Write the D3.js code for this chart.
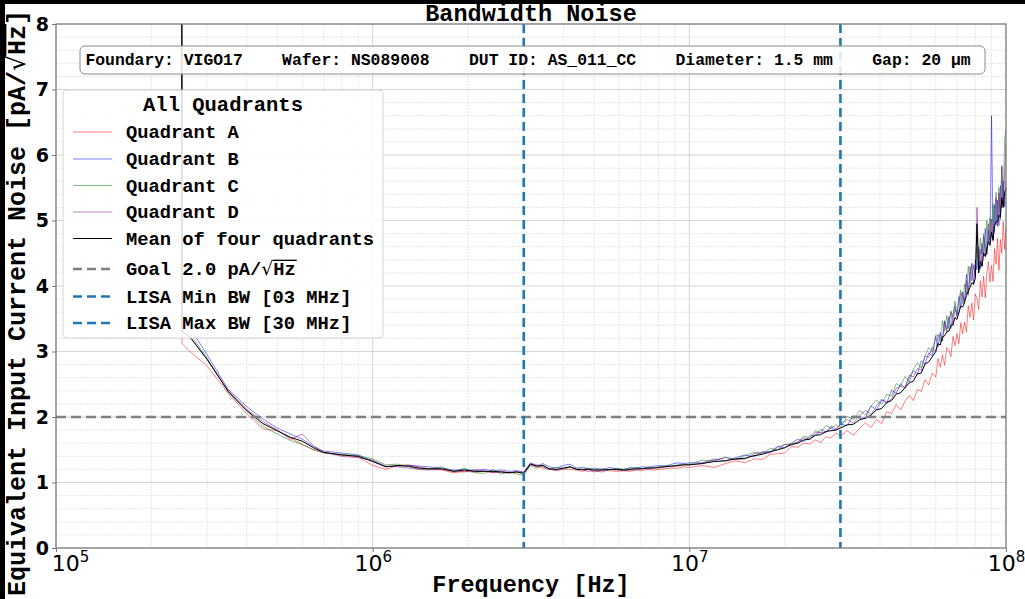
<!DOCTYPE html>
<html>
<head>
<meta charset="utf-8">
<script src="https://cdn.jsdelivr.net/npm/d3@7"></script>
<style>
body{margin:0;background:#000;}
svg{display:block;}
</style>
</head>
<body>
<div id="container"></div>
<script>
// frequency points in MHz
let freqMHz = [0.248, 0.25, 0.265, 0.3, 0.35, 0.4, 0.45, 0.5, 0.55, 0.6,
  0.65, 0.7, 0.8, 0.9, 1.0, 1.1, 1.2, 1.3, 1.4, 1.5,
  1.65, 1.8, 1.95, 2.1, 2.25, 2.4, 2.55, 2.7, 2.85, 3.0,
  3.15, 3.3, 3.45, 3.6, 3.8, 4.0, 4.2, 4.4, 4.6, 4.8,
  5.0, 5.3, 5.6, 5.9, 6.2, 6.5, 6.8, 7.1, 7.4, 7.7,
  8.0, 8.4, 8.8, 9.2, 9.6, 10, 11, 12, 13, 14,
  15, 16, 17, 18, 19, 20, 21, 22, 23, 24,
  25, 26, 27, 28, 29, 30, 31.5, 33, 34.5, 36,
  37.5, 39, 40.5, 42, 43.5, 45, 46.5, 48, 49.5, 51,
  52.5, 54, 55.5, 57, 58.5, 60, 61, 62, 63, 64,
  65, 66, 67, 68, 69, 70, 71, 72, 73, 74,
  75, 76, 77, 78, 79, 80, 81, 82, 83, 84,
  85, 86, 87, 88, 89, 90, 91, 92, 93, 94,
  95, 96, 97, 98, 99, 100];

// noise in pA/sqrt(Hz)
let quadA = [28, 3.12, 3.0, 2.78, 2.36, 2.05, 1.82, 1.79, 1.68, 1.58,
  1.5, 1.46, 1.42, 1.39, 1.26, 1.2, 1.26, 1.27, 1.24, 1.21,
  1.19, 1.15, 1.17, 1.16, 1.17, 1.15, 1.17, 1.15, 1.16, 1.14,
  1.27, 1.24, 1.22, 1.2, 1.19, 1.21, 1.2, 1.19, 1.17, 1.2,
  1.16, 1.19, 1.18, 1.17, 1.18, 1.17, 1.19, 1.18, 1.2, 1.19,
  1.2, 1.21, 1.22, 1.22, 1.24, 1.23, 1.26, 1.23, 1.29, 1.33,
  1.30, 1.36, 1.35, 1.43, 1.44, 1.45, 1.55, 1.54, 1.60, 1.59,
  1.65, 1.61, 1.70, 1.68, 1.76, 1.71, 1.79, 1.72, 1.83, 1.91,
  1.84, 1.96, 1.90, 2.08, 2.05, 2.19, 2.11, 2.24, 2.33, 2.25,
  2.42, 2.39, 2.57, 2.49, 2.67, 2.61, 2.89, 2.76, 2.95, 2.79,
  3.06, 3.02, 2.92, 3.23, 3.09, 3.27, 3.12, 3.44, 3.27, 3.45,
  3.30, 3.70, 3.52, 3.74, 3.48, 3.88, 3.80, 3.64, 4.08, 3.83,
  4.15, 3.82, 4.20, 4.37, 4.06, 4.31, 4.07, 4.57, 4.33, 4.73,
  4.24, 4.71, 4.50, 4.98, 4.56, 4.92];

let quadB = [31, 3.42, 3.36, 2.95, 2.42, 2.16, 1.97, 1.83, 1.74, 1.66,
  1.55, 1.48, 1.45, 1.42, 1.33, 1.24, 1.25, 1.26, 1.25, 1.24,
  1.22, 1.19, 1.2, 1.18, 1.2, 1.18, 1.19, 1.17, 1.18, 1.16,
  1.3, 1.25, 1.29, 1.24, 1.22, 1.26, 1.28, 1.22, 1.23, 1.21,
  1.22, 1.2, 1.23, 1.21, 1.2, 1.23, 1.22, 1.24, 1.23, 1.25,
  1.26, 1.25, 1.28, 1.3, 1.29, 1.3, 1.30, 1.36, 1.33, 1.38,
  1.42, 1.39, 1.47, 1.47, 1.55, 1.53, 1.60, 1.66, 1.63, 1.71,
  1.72, 1.81, 1.77, 1.83, 1.80, 1.89, 1.87, 2.02, 1.98, 1.99,
  2.17, 2.11, 2.26, 2.21, 2.41, 2.36, 2.51, 2.44, 2.60, 2.71,
  2.65, 2.86, 2.81, 2.98, 2.93, 3.23, 3.07, 3.29, 3.16, 3.47,
  3.34, 3.53, 3.35, 3.56, 3.70, 3.53, 3.84, 3.67, 3.91, 3.73,
  4.18, 3.89, 4.15, 4.34, 4.02, 4.40, 4.25, 4.60, 4.26, 4.65,
  4.47, 4.88, 4.49, 4.85, 4.66, 6.6, 4.73, 5.24, 4.93, 5.31,
  4.92, 5.53, 5.19, 5.60, 5.21, 5.62];

let quadC = [30, 3.36, 3.27, 2.9, 2.38, 2.09, 1.86, 1.74, 1.64, 1.58,
  1.5, 1.45, 1.43, 1.41, 1.36, 1.27, 1.28, 1.24, 1.21, 1.2,
  1.24, 1.16, 1.22, 1.15, 1.14, 1.2, 1.13, 1.16, 1.13, 1.11,
  1.26, 1.22, 1.27, 1.2, 1.23, 1.22, 1.23, 1.21, 1.2, 1.22,
  1.19, 1.21, 1.19, 1.22, 1.2, 1.21, 1.23, 1.21, 1.24, 1.22,
  1.24, 1.26, 1.25, 1.27, 1.28, 1.28, 1.34, 1.33, 1.39, 1.35,
  1.41, 1.46, 1.44, 1.52, 1.50, 1.58, 1.59, 1.61, 1.71, 1.68,
  1.79, 1.76, 1.87, 1.83, 1.88, 1.84, 2.01, 1.96, 2.10, 2.03,
  2.17, 2.26, 2.19, 2.35, 2.32, 2.51, 2.47, 2.62, 2.53, 2.73,
  2.83, 2.75, 2.93, 3.06, 2.99, 3.25, 3.25, 3.15, 3.47, 3.31,
  3.55, 3.35, 3.62, 3.53, 3.77, 3.57, 3.79, 3.94, 3.73, 4.03,
  3.87, 4.30, 4.04, 4.35, 4.31, 4.14, 4.57, 4.30, 4.73, 4.49,
  4.80, 4.46, 5.00, 4.68, 5.04, 4.75, 5.26, 4.82, 5.43, 5.04,
  5.50, 5.01, 5.82, 5.23, 6.24, 6.40];

let quadD = [29, 3.3, 3.22, 2.88, 2.4, 2.12, 1.93, 1.8, 1.66, 1.74,
  1.56, 1.46, 1.40, 1.38, 1.34, 1.25, 1.24, 1.22, 1.2, 1.19,
  1.2, 1.18, 1.16, 1.2, 1.18, 1.15, 1.16, 1.14, 1.17, 1.15,
  1.29, 1.27, 1.24, 1.21, 1.18, 1.2, 1.24, 1.2, 1.19, 1.17,
  1.18, 1.16, 1.2, 1.19, 1.18, 1.19, 1.2, 1.21, 1.21, 1.23,
  1.22, 1.24, 1.25, 1.25, 1.27, 1.27, 1.29, 1.34, 1.38, 1.35,
  1.36, 1.44, 1.46, 1.45, 1.54, 1.58, 1.57, 1.62, 1.68, 1.66,
  1.76, 1.76, 1.76, 1.86, 1.82, 1.88, 1.96, 1.91, 2.03, 2.10,
  2.04, 2.17, 2.27, 2.23, 2.27, 2.44, 2.47, 2.45, 2.64, 2.61,
  2.74, 2.71, 2.93, 2.91, 3.07, 2.99, 3.25, 3.25, 3.18, 3.45,
  3.30, 3.48, 3.60, 3.39, 3.64, 3.58, 3.57, 3.89, 3.84, 3.75,
  4.08, 3.86, 4.30, 4.08, 4.32, 4.13, 5.2, 4.28, 4.56, 4.30,
  4.75, 4.58, 4.47, 4.95, 4.71, 5.02, 4.68, 5.09, 5.35, 4.91,
  5.42, 5.08, 5.84, 5.25, 5.71, 6.17];

let meanQuad = [30, 3.3, 3.22, 2.88, 2.39, 2.1, 1.9, 1.79, 1.69, 1.63,
  1.53, 1.46, 1.42, 1.4, 1.32, 1.24, 1.26, 1.25, 1.22, 1.21,
  1.21, 1.17, 1.19, 1.17, 1.17, 1.17, 1.16, 1.15, 1.16, 1.14,
  1.28, 1.25, 1.26, 1.21, 1.2, 1.22, 1.24, 1.2, 1.2, 1.2,
  1.19, 1.19, 1.2, 1.2, 1.19, 1.2, 1.21, 1.21, 1.22, 1.22,
  1.23, 1.24, 1.25, 1.26, 1.27, 1.27, 1.29, 1.32, 1.33, 1.36,
  1.37, 1.41, 1.43, 1.47, 1.5, 1.53, 1.58, 1.6, 1.65, 1.66,
  1.72, 1.73, 1.78, 1.79, 1.8, 1.83, 1.88, 1.89, 1.96, 1.98,
  2.03, 2.11, 2.13, 2.22, 2.25, 2.35, 2.37, 2.45, 2.52, 2.55,
  2.66, 2.67, 2.81, 2.84, 2.92, 3.0, 3.12, 3.1, 3.22, 3.24,
  3.3, 3.31, 3.4, 3.41, 3.52, 3.49, 3.6, 3.69, 3.68, 3.76,
  3.85, 3.92, 3.98, 4.05, 4.03, 4.12, 4.95, 4.2, 4.38, 4.3,
  4.5, 4.45, 4.55, 4.68, 4.62, 4.82, 4.7, 4.92, 4.98, 4.98,
  5.08, 5.05, 5.35, 5.2, 5.42, 5.5];

let seriesNames = ["Quadrant A", "Quadrant B", "Quadrant C", "Quadrant D", "Mean of four quadrants"];
let goalValue = 2.0;
let bandLimitsMHz = [3, 30];
let yTickValues = [0, 1, 2, 3, 4, 5, 6, 7, 8];
let xTickValues = [1e5, 1e6, 1e7, 1e8];
let infoText = "Foundary: VIGO17    Wafer: NS089008    DUT ID: AS_011_CC    Diameter: 1.5 mm    Gap: 20 µm";

let w = 1025;
let h = 599;
let plotL = 56, plotR = 1006, plotT = 24, plotB = 548;
let mono = "'Liberation Mono','Courier New',monospace";
let sans = "'DejaVu Sans',sans-serif";

let viz = d3.select("#container").append("svg")
  .attr("width", w).attr("height", h);

viz.append("rect").attr("width", w).attr("height", h).attr("fill", "#000");
viz.append("rect").attr("x", 5).attr("y", 4).attr("width", w - 5).attr("height", h - 4).attr("fill", "#fff");

let xScale = d3.scaleLog().domain([1e5, 1e8]).range([plotL, plotR]);
let yScale = d3.scaleLinear().domain([0, 8]).range([plotB, plotT]);

// grid
let gridGroup = viz.append("g");
let minorX = [];
[1e5, 1e6, 1e7].forEach(function(d){ for (let k = 2; k <= 9; k++) minorX.push(k * d); });
let minorY = yScale.ticks(40).filter(function(v){ return Math.abs(v - Math.round(v)) > 1e-6; });

gridGroup.selectAll(".minx").data(minorX).enter().append("line")
  .attr("x1", d => xScale(d)).attr("x2", d => xScale(d))
  .attr("y1", plotT).attr("y2", plotB)
  .attr("stroke", "#e0e0e0").attr("stroke-width", 0.8).attr("stroke-dasharray", "2,1");
gridGroup.selectAll(".miny").data(minorY).enter().append("line")
  .attr("x1", plotL).attr("x2", plotR)
  .attr("y1", d => yScale(d)).attr("y2", d => yScale(d))
  .attr("stroke", "#e0e0e0").attr("stroke-width", 0.8).attr("stroke-dasharray", "2,1");
gridGroup.selectAll(".majx").data(xTickValues).enter().append("line")
  .attr("x1", d => xScale(d)).attr("x2", d => xScale(d))
  .attr("y1", plotT).attr("y2", plotB)
  .attr("stroke", "#cfcfcf").attr("stroke-width", 0.9);
gridGroup.selectAll(".majy").data(yTickValues).enter().append("line")
  .attr("x1", plotL).attr("x2", plotR)
  .attr("y1", d => yScale(d)).attr("y2", d => yScale(d))
  .attr("stroke", "#cfcfcf").attr("stroke-width", 0.9);

// data lines
viz.append("clipPath").attr("id", "plotClip").append("rect")
  .attr("x", plotL).attr("y", plotT).attr("width", plotR - plotL).attr("height", plotB - plotT);

let graphGroup = viz.append("g").attr("clip-path", "url(#plotClip)");
let allSeries = [quadA, quadB, quadC, quadD, meanQuad];
let lineColors = ["rgba(255,0,0,0.5)", "rgba(0,0,255,0.5)", "rgba(0,128,0,0.5)", "rgba(128,0,128,0.5)", "#000"];

let lineGen = d3.line()
  .x(function(d, i){ return xScale(freqMHz[i] * 1e6); })
  .y(function(d){ return yScale(d); });

graphGroup.selectAll(".series").data(allSeries).enter().append("path")
  .attr("d", d => lineGen(d))
  .attr("fill", "none")
  .attr("stroke", (d, i) => lineColors[i])
  .attr("stroke-width", 1)
  .attr("stroke-linejoin", "round");

// reference lines
graphGroup.append("line")
  .attr("x1", plotL).attr("x2", plotR)
  .attr("y1", yScale(goalValue)).attr("y2", yScale(goalValue))
  .attr("stroke", "#808080").attr("stroke-width", 2.6).attr("stroke-dasharray", "10,5");
graphGroup.selectAll(".band").data(bandLimitsMHz).enter().append("line")
  .attr("x1", d => xScale(d * 1e6)).attr("x2", d => xScale(d * 1e6))
  .attr("y1", plotT).attr("y2", plotB)
  .attr("stroke", "#1f77b4").attr("stroke-width", 2.6).attr("stroke-dasharray", "9,5");

// frame
viz.append("rect").attr("x", plotL).attr("y", plotT).attr("width", plotR - plotL).attr("height", plotB - plotT)
  .attr("fill", "none").attr("stroke", "#7a7a7a").attr("stroke-width", 1.2);

// axes
let yAxis = d3.axisLeft(yScale).tickValues(yTickValues).tickSize(4).tickPadding(3);
let yAxisGroup = viz.append("g").attr("transform", "translate(" + plotL + ",0)").call(yAxis);
yAxisGroup.select(".domain").remove();
yAxisGroup.selectAll("line").attr("stroke", "#7a7a7a");
yAxisGroup.selectAll("text").style("font-family", sans).style("font-weight", "bold")
  .style("font-size", "19px").attr("fill", "#000");

let xAxis = d3.axisBottom(xScale).tickValues(xTickValues).tickSize(4).tickFormat(function(){ return ""; });
let xAxisGroup = viz.append("g").attr("transform", "translate(0," + plotB + ")").call(xAxis);
xAxisGroup.select(".domain").remove();
xAxisGroup.selectAll("line").attr("stroke", "#7a7a7a");
xAxisGroup.selectAll(".tick").each(function(d, i){
  // first label sits a little right so it clears the "0" of the y axis
  let t = d3.select(this).append("text").attr("x", i == 0 ? 14 : 0).attr("y", 23).attr("text-anchor", "middle")
    .style("font-family", sans).style("font-size", "22px").attr("fill", "#000");
  t.append("tspan").text("10");
  t.append("tspan").attr("dy", -9).style("font-size", "15px").text(Math.round(Math.log10(d)));
});

// draws the bar of a square root over the characters after it
function rootBar(textSel, rootIdx, endIdx, fs){
  let node = textSel.node();
  let p0 = node.getEndPositionOfChar(rootIdx);
  let p1 = node.getEndPositionOfChar(endIdx);
  d3.select(node.parentNode).append("line")
    .attr("x1", p0.x - 0.5).attr("x2", p1.x + 1)
    .attr("y1", p0.y - 0.78 * fs).attr("y2", p0.y - 0.78 * fs)
    .attr("stroke", "#000").attr("stroke-width", fs * 0.07);
}

// title and labels
viz.append("text").attr("x", (plotL + plotR) / 2).attr("y", 21).attr("text-anchor", "middle")
  .style("font-family", mono).style("font-weight", "bold").style("font-size", "23.5px")
  .text("Bandwidth Noise");
viz.append("text").attr("x", (plotL + plotR) / 2).attr("y", 592).attr("text-anchor", "middle")
  .style("font-family", mono).style("font-weight", "bold").style("font-size", "23.5px")
  .text("Frequency [Hz]");

let yLabGroup = viz.append("g").attr("transform", "translate(25,303) rotate(-90)");
let yLab = yLabGroup.append("text").attr("x", 0).attr("y", 0).attr("text-anchor", "middle")
  .style("font-family", mono).style("font-weight", "bold").style("font-size", "25px");
yLab.append("tspan").text("Equivalent Input Current Noise [pA/");
yLab.append("tspan").style("font-family", sans).style("font-weight", "normal").text("√");
yLab.append("tspan").text("Hz");
yLab.append("tspan").text("]");
rootBar(yLab, 35, 37, 25);

// info box
viz.append("rect").attr("x", 80).attr("y", 46).attr("width", 905).attr("height", 28)
  .attr("rx", 5).attr("fill", "rgba(255,255,255,0.85)").attr("stroke", "#8a8a8a").attr("stroke-width", 1);
viz.append("text").attr("x", 528).attr("y", 65).attr("text-anchor", "middle")
  .attr("xml:space", "preserve").style("white-space", "pre")
  .style("font-family", mono).style("font-weight", "bold").style("font-size", "16.4px")
  .text(infoText);

// legend
let legend = viz.append("g");
legend.append("rect").attr("x", 63).attr("y", 90).attr("width", 320).attr("height", 248)
  .attr("rx", 4).attr("fill", "rgba(255,255,255,0.85)").attr("stroke", "#d6d6d6");
legend.append("text").attr("x", 223).attr("y", 111).attr("text-anchor", "middle")
  .style("font-family", mono).style("font-weight", "bold").style("font-size", "20.5px")
  .text("All Quadrants");

let legendRows = [132, 159, 185.5, 212, 238.5, 269, 296.5, 323];
seriesNames.forEach(function(name, i){
  legend.append("line").attr("x1", 73).attr("x2", 112)
    .attr("y1", legendRows[i]).attr("y2", legendRows[i])
    .attr("stroke", lineColors[i]).attr("stroke-width", 1);
  legend.append("text").attr("x", 126).attr("y", legendRows[i] + 6)
    .style("font-family", mono).style("font-weight", "bold").style("font-size", "18.8px")
    .text(name);
});
let dashRows = [
  {color: "#808080", label: null},
  {color: "#1f77b4", label: "LISA Min BW [03 MHz]"},
  {color: "#1f77b4", label: "LISA Max BW [30 MHz]"}
];
dashRows.forEach(function(r, j){
  let yy = legendRows[5 + j];
  legend.append("line").attr("x1", 73).attr("x2", 112).attr("y1", yy).attr("y2", yy)
    .attr("stroke", r.color).attr("stroke-width", 2.6).attr("stroke-dasharray", "9,5");
  let t = legend.append("text").attr("x", 126).attr("y", yy + 6)
    .style("font-family", mono).style("font-weight", "bold").style("font-size", "18.8px");
  if (r.label) {
    t.text(r.label);
  } else {
    t.append("tspan").text("Goal " + goalValue.toFixed(1) + " pA/");
    t.append("tspan").style("font-family", sans).style("font-weight", "normal").text("√");
    t.append("tspan").text("Hz");
    rootBar(t, 12, 14, 18.8);
  }
});
</script>
</body>
</html>
